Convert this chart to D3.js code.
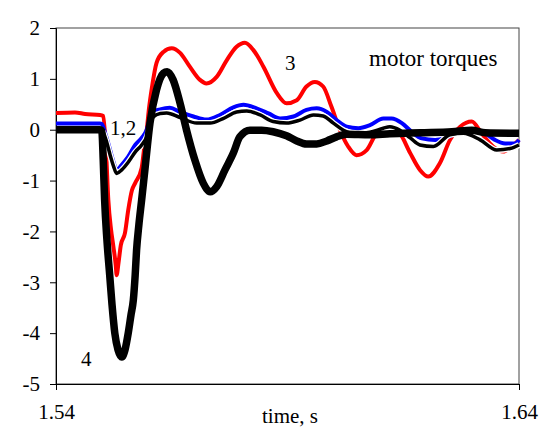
<!DOCTYPE html>
<html>
<head>
<meta charset="utf-8">
<script src="https://cdn.jsdelivr.net/npm/d3@7"></script>
<style>
  body { margin: 0; background: #fff; }
  text { font-family: "Liberation Serif", "Times New Roman", serif; fill: #000; }
</style>
</head>
<body>
<div id="chart"></div>
<script>
// series values (time in s, torque in p.u.)
const yTicks = [-5, -4, -3, -2, -1, 0, 1, 2];
const xTicks = [1.54, 1.64];

// 1 - blue
const t1 = [1.5400, 1.5495, 1.5499, 1.5506, 1.5513, 1.5524, 1.5531, 1.5542, 1.5556, 1.5571, 1.5585, 1.5596, 1.5602, 1.5610, 1.5625, 1.5646, 1.5668, 1.5697, 1.5725, 1.5754, 1.5783, 1.5805, 1.5833, 1.5859, 1.5884, 1.5913, 1.5941, 1.5963, 1.5985, 1.6006, 1.6028, 1.6053, 1.6078, 1.6107, 1.6125, 1.6147, 1.6168, 1.6190, 1.6219, 1.6247, 1.6276, 1.6305, 1.6327, 1.6348, 1.6370, 1.6391, 1.6400];
const v1 = [0.12, 0.12, 0.11, -0.06, -0.27, -0.63, -0.79, -0.69, -0.53, -0.30, -0.16, 0.00, 0.19, 0.35, 0.40, 0.43, 0.35, 0.26, 0.20, 0.29, 0.44, 0.49, 0.42, 0.32, 0.22, 0.26, 0.39, 0.42, 0.35, 0.19, 0.06, 0.03, 0.09, 0.22, 0.22, 0.13, -0.04, -0.17, -0.20, -0.14, -0.04, -0.01, -0.07, -0.20, -0.27, -0.27, -0.20];

// 2 - thin black
const t2 = [1.5400, 1.5495, 1.5502, 1.5508, 1.5517, 1.5524, 1.5531, 1.5542, 1.5556, 1.5571, 1.5585, 1.5596, 1.5603, 1.5610, 1.5625, 1.5639, 1.5668, 1.5704, 1.5733, 1.5761, 1.5790, 1.5812, 1.5841, 1.5869, 1.5898, 1.5927, 1.5956, 1.5977, 1.5999, 1.6021, 1.6049, 1.6078, 1.6107, 1.6121, 1.6143, 1.6165, 1.6186, 1.6215, 1.6251, 1.6280, 1.6316, 1.6352, 1.6381, 1.6400];
const v2 = [0.00, 0.00, -0.05, -0.20, -0.50, -0.71, -0.86, -0.79, -0.64, -0.44, -0.30, -0.14, 0.07, 0.25, 0.32, 0.33, 0.24, 0.13, 0.13, 0.22, 0.35, 0.37, 0.29, 0.16, 0.13, 0.19, 0.29, 0.27, 0.13, -0.01, -0.08, -0.05, 0.03, 0.06, -0.01, -0.16, -0.30, -0.33, -0.10, -0.07, -0.20, -0.40, -0.37, -0.30];

// 3 - red
const t3 = [1.5400, 1.5441, 1.5463, 1.5495, 1.5502, 1.5508, 1.5513, 1.5519, 1.5524, 1.5529, 1.5531, 1.5535, 1.5540, 1.5549, 1.5556, 1.5564, 1.5571, 1.5585, 1.5590, 1.5596, 1.5601, 1.5607, 1.5617, 1.5632, 1.5650, 1.5668, 1.5689, 1.5711, 1.5725, 1.5747, 1.5769, 1.5790, 1.5808, 1.5826, 1.5848, 1.5877, 1.5898, 1.5920, 1.5941, 1.5959, 1.5977, 1.5995, 1.6013, 1.6031, 1.6049, 1.6071, 1.6093, 1.6121, 1.6143, 1.6165, 1.6186, 1.6204, 1.6229, 1.6251, 1.6273, 1.6298, 1.6319, 1.6344, 1.6366, 1.6388, 1.6400];
const v3 = [0.33, 0.34, 0.31, 0.29, 0.27, -0.40, -1.38, -1.97, -2.30, -2.66, -2.86, -2.62, -2.27, -2.03, -1.58, -1.19, -1.05, -0.75, -0.40, 0.00, 0.43, 0.82, 1.31, 1.53, 1.60, 1.51, 1.24, 0.98, 0.91, 1.04, 1.37, 1.63, 1.71, 1.57, 1.24, 0.72, 0.52, 0.58, 0.85, 0.94, 0.85, 0.45, 0.00, -0.33, -0.50, -0.40, -0.06, 0.07, -0.07, -0.46, -0.79, -0.92, -0.66, -0.20, 0.06, 0.16, -0.07, -0.33, -0.43, -0.30, -0.20];

// 4 - thick black
const t4 = [1.5400, 1.5495, 1.5499, 1.5502, 1.5505, 1.5510, 1.5516, 1.5521, 1.5527, 1.5534, 1.5542, 1.5549, 1.5556, 1.5562, 1.5567, 1.5571, 1.5574, 1.5579, 1.5585, 1.5592, 1.5603, 1.5617, 1.5632, 1.5640, 1.5653, 1.5668, 1.5682, 1.5700, 1.5718, 1.5733, 1.5747, 1.5765, 1.5783, 1.5797, 1.5819, 1.5844, 1.5869, 1.5898, 1.5920, 1.5941, 1.5963, 1.5985, 1.6006, 1.6028, 1.6078, 1.6121, 1.6186, 1.6255, 1.6298, 1.6327, 1.6400];
const v4 = [0.00, 0.00, -0.03, -0.60, -1.38, -2.17, -2.86, -3.44, -4.00, -4.33, -4.47, -4.33, -4.00, -3.64, -3.35, -2.86, -2.37, -1.87, -1.38, -0.79, 0.13, 0.78, 1.11, 1.14, 0.98, 0.52, -0.01, -0.60, -1.05, -1.22, -1.12, -0.79, -0.46, -0.14, -0.01, -0.01, -0.04, -0.12, -0.22, -0.28, -0.28, -0.22, -0.14, -0.09, -0.10, -0.08, -0.06, -0.04, -0.01, -0.06, -0.07];

const width = 549, height = 428;
const mLeft = 56, mRight = 519, mTop = 28, mBottom = 384;

let svg = d3.select("#chart").append("svg")
  .attr("width", width)
  .attr("height", height);

let x = d3.scaleLinear().domain([1.54, 1.64]).range([mLeft, mRight]);
let y = d3.scaleLinear().domain([-5, 2]).range([mBottom, mTop]);

// frame
svg.append("rect")
  .attr("x", mLeft).attr("y", mTop)
  .attr("width", mRight - mLeft).attr("height", mBottom - mTop)
  .attr("fill", "none").attr("stroke", "#444").attr("stroke-width", 1);

let yAxis = d3.axisLeft(y).tickValues(yTicks).tickSize(6).tickPadding(10)
  .tickFormat(d => String(d));
let gy = svg.append("g").attr("transform", `translate(${mLeft},0)`).call(yAxis);
gy.select(".domain").attr("stroke", "#000");
gy.selectAll("text").style("font-size", "21px").attr("font-family", null);

let xAxis = d3.axisBottom(x).tickValues(xTicks).tickSize(6).tickPadding(14)
  .tickFormat(d3.format(".2f"));
let gx = svg.append("g").attr("transform", `translate(0,${mBottom})`).call(xAxis);
gx.select(".domain").attr("stroke", "#000");
gx.selectAll("text").style("font-size", "21px").attr("font-family", null);

svg.append("text")
  .attr("x", 290).attr("y", 423)
  .attr("text-anchor", "middle")
  .style("font-size", "21px")
  .text("time, s");

let line = d3.line()
  .x(d => x(d[0]))
  .y(d => y(d[1]))
  .curve(d3.curveMonotoneX);

let zip = (ts, vs) => ts.map((t, i) => [t, vs[i]]);

let plot = svg.append("g");

plot.append("path").datum(zip(t3, v3))
  .attr("d", line).attr("fill", "none")
  .attr("stroke", "#ff0000").attr("stroke-width", 4);

plot.append("path").datum(zip(t1, v1))
  .attr("d", line).attr("fill", "none")
  .attr("stroke", "#0000ff").attr("stroke-width", 4);

plot.append("path").datum(zip(t2, v2))
  .attr("d", line).attr("fill", "none")
  .attr("stroke", "#fff").attr("stroke-width", 6);
plot.append("path").datum(zip(t2, v2))
  .attr("d", line).attr("fill", "none")
  .attr("stroke", "#000").attr("stroke-width", 3.5);

plot.append("path").datum(zip(t4, v4))
  .attr("d", line).attr("fill", "none")
  .attr("stroke", "#000").attr("stroke-width", 7.5)
  .attr("stroke-linejoin", "round");

// curve labels
svg.append("text").attr("x", 110).attr("y", 135).style("font-size", "21px").text("1,2");
svg.append("text").attr("x", 285).attr("y", 70).style("font-size", "21px").text("3");
svg.append("text").attr("x", 81).attr("y", 366).style("font-size", "21px").text("4");
svg.append("text").attr("x", 369).attr("y", 66).style("font-size", "23px").text("motor torques");
</script>
</body>
</html>
